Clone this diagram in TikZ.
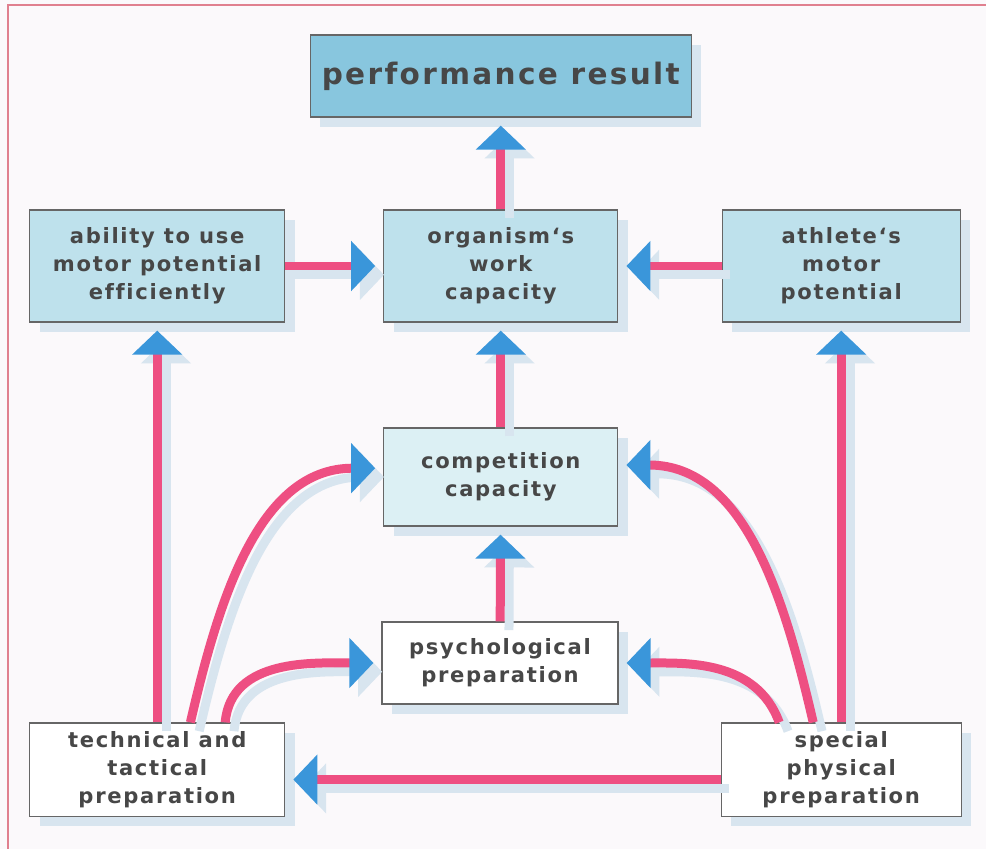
\documentclass[tikz,border=0pt]{standalone}
\usepackage{fontspec}
\usetikzlibrary{arrows.meta,shadows}
\newfontfamily\blockfont[LetterSpace=8, Ligatures=NoCommon]{DejaVu Sans}
\definecolor{linkpink}{HTML}{EE4F82}
\definecolor{headblue}{HTML}{3A96DA}
\definecolor{boxdark}{HTML}{88C6DE}
\definecolor{boxmid}{HTML}{BEE1EC}
\definecolor{boxpale}{HTML}{DCF0F4}
\definecolor{shadowblue}{HTML}{D8E5EF}
\definecolor{textgrey}{HTML}{474747}
\definecolor{framepink}{HTML}{E0808F}
\definecolor{paper}{HTML}{FBF9FB}
\begin{document}
\begin{tikzpicture}[
    block/.style={draw=gray!80!black, line width=0.9pt, align=center, text=textgrey,
        font=\blockfont\bfseries\fontsize{15}{20}\selectfont, inner sep=0pt,
        general shadow={fill=shadowblue, shadow xshift=0.25cm, shadow yshift=-0.25cm}},
    link/.style={draw=linkpink, line width=6.4pt, shorten >=0.2cm,
        -{Triangle[length=0.6cm, width=1.22cm, color=headblue]},
        preaction={draw=shadowblue, line width=6.4pt, shorten >=0.2cm,
            -{Triangle[length=0.6cm, width=1.22cm, color=shadowblue]},
            transform canvas={shift={(0.22,-0.22)}}}}
]
    % Page and frame
    \useasboundingbox[fill=paper] (0,0) rectangle (24.65,-21.225);
    \draw[framepink, line width=1.2pt] (0.2,-21.3) -- (0.2,-0.125) -- (24.7,-0.125);

    % Top: result
    \node[block, fill=boxdark, minimum width=9.53cm, minimum height=2.05cm,
        font=\blockfont\bfseries\fontsize{21}{26}\selectfont] (result) at (12.52,-1.9) {performance result};

    % Second row
    \node[block, fill=boxmid, minimum width=6.375cm, minimum height=2.8cm] (abil) at (3.93,-6.65)
        {ability to use\\motor potential\\efficiently};
    \node[block, fill=boxmid, minimum width=5.85cm, minimum height=2.8cm] (org) at (12.52,-6.65)
        {organism‘s\\work\\capacity};
    \node[block, fill=boxmid, minimum width=5.95cm, minimum height=2.8cm] (ath) at (21.03,-6.65)
        {athlete‘s\\motor\\potential};

    % Middle
    \node[block, fill=boxpale, minimum width=5.85cm, minimum height=2.45cm] (comp) at (12.52,-11.925)
        {competition\\capacity};
    \node[block, fill=white, minimum width=5.9cm, minimum height=2.05cm] (psych) at (12.5,-16.575)
        {psychological\\preparation};

    % Bottom row
    \node[block, fill=white, minimum width=6.375cm, minimum height=2.33cm] (tech) at (3.93,-19.24)
        {technical and\\tactical\\preparation};
    \node[block, fill=white, minimum width=6.0cm, minimum height=2.33cm] (spec) at (21.03,-19.24)
        {special\\physical\\preparation};

    % Straight links
    \draw[link] (org) -- (result);
    \draw[link] (abil) -- (org);
    \draw[link] (ath) -- (org);
    \draw[link] (comp) -- (org);
    \draw[link] (psych) -- (comp);
    \draw[link] (tech) -- (abil);
    \draw[link] (spec) -- (ath);
    \draw[link] ([yshift=-0.25cm]spec.west) -- ([yshift=-0.25cm]tech.east);

    % Curved links
    \draw[link] ([xshift=0.83cm]tech.north) to[out=77, in=180] ([yshift=0.22cm]comp.west);
    \draw[link] ([xshift=1.7cm]tech.north) to[out=85, in=180] (psych.west);
    \draw[link] ([xshift=-0.7cm]spec.north) to[out=103, in=0] ([yshift=0.3cm]comp.east);
    \draw[link] ([xshift=-1.55cm]spec.north) to[out=110, in=0] (psych.east);
\end{tikzpicture}
\end{document}
